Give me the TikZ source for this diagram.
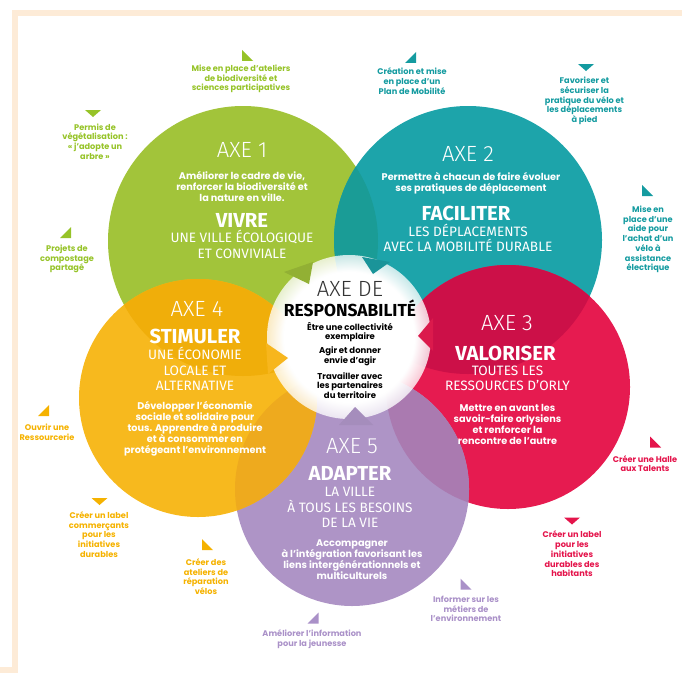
\documentclass[tikz,border=0pt]{standalone}
\usepackage{fontspec}
\setmainfont{Fira Sans}
\newfontfamily\thinfont{Fira Sans Light}
\newfontfamily\notefont{Poppins}
\usepackage{tikz}
\usetikzlibrary{fadings}

\definecolor{cadre}{HTML}{FDEBD7}
\definecolor{cvert}{HTML}{A2C43A}
\definecolor{cbleu}{HTML}{1DA4AA}
\definecolor{crouge}{HTML}{E61B50}
\definecolor{cjaune}{HTML}{F7B91E}
\definecolor{cmauve}{HTML}{AE94C6}
\definecolor{cvertbleu}{HTML}{1A9C96}
\definecolor{cbleurouge}{HTML}{CC1048}
\definecolor{crougemauve}{HTML}{AA7AB0}
\definecolor{cjaunevert}{HTML}{F0AE0A}
\definecolor{cjaunemauve}{HTML}{EEAA1E}
\definecolor{tvert}{HTML}{96C328}
\definecolor{tbleu}{HTML}{149BA0}
\definecolor{trouge}{HTML}{E4144B}
\definecolor{tjaune}{HTML}{F5B200}
\definecolor{tmauve}{HTML}{AA91C8}

\tikzset{
  note/.style={font=\notefont\bfseries\fontsize{8.2}{9.7}\selectfont, align=center, inner sep=0pt},
  axe/.style={font=\thinfont\fontsize{22}{22}\selectfont, text=white, inner sep=0pt},
  titre/.style={font=\bfseries\fontsize{20.3}{21}\selectfont, text=white, inner sep=0pt},
  sous/.style={font=\fontsize{13.6}{15.5}\selectfont, text=white, align=center, inner sep=0pt},
  but/.style={font=\notefont\bfseries\fontsize{9.7}{11}\selectfont, text=white, align=center, inner sep=0pt},
  centre/.style={font=\notefont\bfseries\fontsize{8.5}{9.6}\selectfont, text=black, align=center, inner sep=0pt},
  tri bg/.pic={\fill (-5.5,-5.5) -- (-5.5,5.5) -- (5.5,5.5) -- cycle;},
  tri bd/.pic={\fill (5.5,-5.5) -- (5.5,5.5) -- (-5.5,5.5) -- cycle;},
  tri bas/.pic={\fill (-8,-3.5) -- (8,-3.5) -- (0,3.5) -- cycle;},
}

\begin{document}
\begin{tikzpicture}[x=1pt, y=-1pt]
\useasboundingbox (0,0) rectangle (682,677);

% cadre
\fill[cadre] (12,10) rectangle (682,16);
\fill[cadre] (12,10) rectangle (18,667);
\fill[cadre] (0,667) rectangle (18,673);

% centres des cercles
\coordinate (c1) at (243,241);
\coordinate (c2) at (468,240);
\coordinate (c3) at (508,387);
\coordinate (c4) at (198,398);
\coordinate (c5) at (352,489);
\coordinate (c0) at (349,337);

% cercles
\fill[cvert] (c1) circle (135pt);
\fill[cbleu] (c2) circle (134pt);
\fill[crouge] (c3) circle (122pt);
\fill[cmauve] (c5) circle (117pt);
\fill[cjaune] (c4) circle (119pt);

% recouvrements
\begin{scope}
  \clip (c1) circle (135pt);
  \fill[cvertbleu] (c2) circle (134pt);
  \fill[cjaunevert] (c4) circle (119pt);
\end{scope}
\begin{scope}
  \clip (c2) circle (134pt);
  \fill[cbleurouge] (c3) circle (122pt);
\end{scope}
\begin{scope}
  \clip (c3) circle (122pt);
  \fill[crougemauve] (c5) circle (117pt);
\end{scope}
\begin{scope}
  \clip (c4) circle (119pt);
  \fill[cjaunemauve] (c5) circle (117pt);
\end{scope}

% axe de responsabilite
\fill[white, opacity=0.76] (c0) circle (82pt);
\fill[white, path fading=circle with fuzzy edge 20 percent] (c0) circle (82pt);
\fill[cvert!90!black] (284,272) -- (313,262) -- (309,284) -- cycle;
\fill[cbleu!90!black] (362,257) -- (390,262) -- (373,274) -- cycle;
\fill[crouge!95!black] (433,318) -- (433,351) -- (418,336) -- cycle;
\fill[cmauve!95!black] (339,425) -- (373,425) -- (355,407) -- cycle;
\fill[cjaune!95!orange] (266,343) -- (288,358) -- (268,374) -- cycle;

% axe 1
\node[axe] (axe1) at (242,150) {AXE 1};
\node[but] (but1) at (242,186) {Améliorer le cadre de vie,\\renforcer la biodiversité et\\la nature en ville.};
\node[titre] (titre1) at (242,220) {VIVRE};
\node[sous] (sous1) at (242,244.5) {UNE VILLE ÉCOLOGIQUE\\ET CONVIVIALE};

% axe 2
\node[axe] (axe2) at (468,153.5) {AXE 2};
\node[but] (but2) at (471,183.5) {Permettre à chacun de faire évoluer\\ses pratiques de déplacement};
\node[titre] (titre2) at (466,213.5) {FACILITER};
\node[sous] (sous2) at (468,238) {LES DÉPLACEMENTS\\AVEC LA MOBILITÉ DURABLE};

% axe 3
\node[axe] (axe3) at (507,323.5) {AXE 3};
\node[titre] (titre3) at (505.5,353) {VALORISER};
\node[sous] (sous3) at (507.5,378.5) {TOUTES LES\\RESSOURCES D’ORLY};
\node[but] (but3) at (507.5,424) {Mettre en avant les\\savoir-faire orlysiens\\et renforcer la\\rencontre de l’autre};

% axe 4
\node[axe] (axe4) at (197,309) {AXE 4};
\node[titre] (titre4) at (195,336) {STIMULER};
\node[sous] (sous4) at (195,369) {UNE ÉCONOMIE\\LOCALE ET\\ALTERNATIVE};
\node[but] (but4) at (195,429) {Développer l’économie\\sociale et solidaire pour\\tous. Apprendre à produire\\et à consommer en\\protégeant l’environnement};

% axe 5
\node[axe] (axe5) at (352,446) {AXE 5};
\node[titre] (titre5) at (350,473.5) {ADAPTER};
\node[sous] (sous5) at (350,507.5) {LA VILLE\\À TOUS LES BESOINS\\DE LA VIE};
\node[but] (but5) at (352,559.5) {Accompagner\\à l’intégration favorisant les\\liens intergénérationnels et\\multiculturels};

% centre
\node[axe, text=black!80] (axe0) at (350,289) {AXE DE};
\node[titre, text=black, font=\bfseries\fontsize{17.4}{18}\selectfont] (titre0) at (350,308.5) {RESPONSABILITÉ};
\node[centre] (but0a) at (350,332) {Être une collectivité\\exemplaire};
\node[centre] (but0b) at (350,356.5) {Agir et donner\\envie d’agir};
\node[centre] (but0c) at (350,385.5) {Travailler avec\\les partenaires\\du territoire};

% actions
\pic[tvert] at (247.5,55.5) {tri bg};
\node[note, text=tvert] (ateliers) at (241,79) {Mise en place d’ateliers\\de biodiversité et\\sciences participatives};
\pic[tvert] at (93,113.5) {tri bas};
\node[note, text=tvert] (permis) at (95,141.5) {Permis de\\végétalisation :\\« j’adopte un\\arbre »};
\pic[tvert] at (65.5,232.5) {tri bd};
\node[note, text=tvert] (compost) at (67,259) {Projets de\\compostage\\partagé};

\pic[tbleu] at (410.5,57.5) {tri bd};
\node[note, text=tbleu] (planmob) at (412,81) {Création et mise\\en place d’un\\Plan de Mobilité};
\pic[tbleu] at (586,67.5) {tri bas};
\node[note, text=tbleu] (velo) at (584.5,101) {Favoriser et\\sécuriser la\\pratique du vélo et\\les déplacements\\à pied};
\pic[tbleu] at (647.5,190.5) {tri bg};
\node[note, text=tbleu] (aidevae) at (648,239.5) {Mise en\\place d’une\\aide pour\\l’achat d’un\\vélo à\\assistance\\électrique};

\pic[trouge] at (655.5,442) {tri bg};
\node[note, text=trouge] (halle) at (645,463.5) {Créer une Halle\\aux Talents};
\pic[trouge] at (572,521) {tri bas};
\node[note, text=trouge] (labelhab) at (572,554) {Créer un label\\pour les\\initiatives\\durables des\\habitants};

\pic[tjaune] at (43.5,410.5) {tri bd};
\node[note, text=tjaune] (ressourcerie) at (47,432) {Ouvrir une\\Ressourcerie};
\pic[tjaune] at (99.5,501.5) {tri bas};
\node[note, text=tjaune] (labelcom) at (99,534.5) {Créer un label\\commerçants\\pour les\\initiatives\\durables};
\pic[tjaune] at (207.5,544.5) {tri bg};
\node[note, text=tjaune] (reparation) at (206,576.5) {Créer des\\ateliers de\\réparation\\vélos};

\pic[tmauve] at (313,618) {tri bd};
\node[note, text=tmauve] (jeunesse) at (312,639) {Améliorer l’information\\pour la jeunesse};
\pic[tmauve] at (466,584) {tri bg};
\node[note, text=tmauve] (metiers) at (466,609) {Informer sur les\\métiers de\\l’environnement};

\end{tikzpicture}
\end{document}
